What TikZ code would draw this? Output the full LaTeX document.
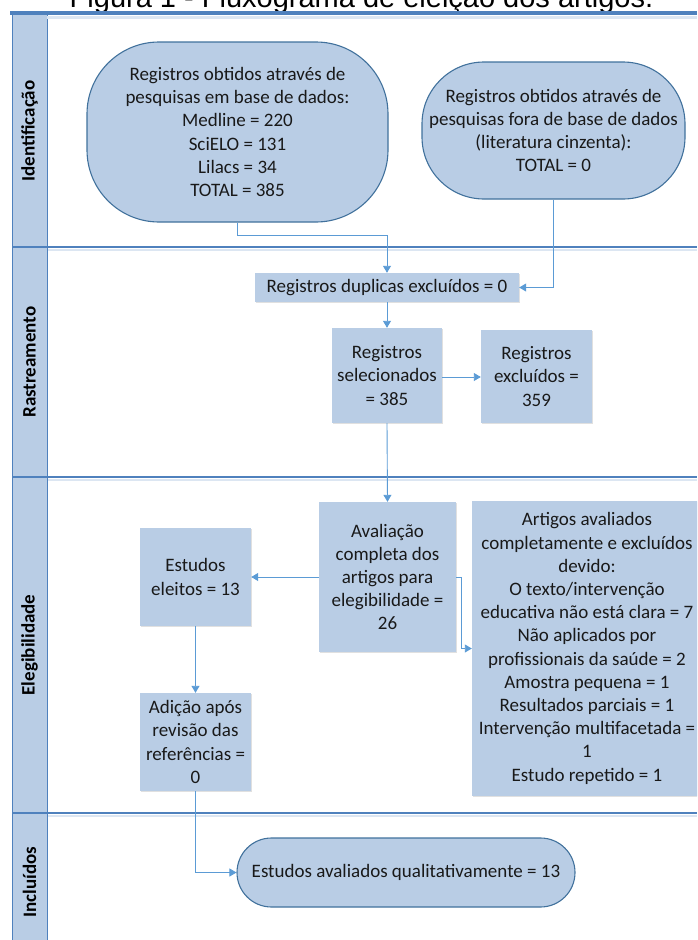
\documentclass[tikz,border=0pt]{standalone}
\usepackage{fontspec}
\setmainfont{Carlito}
\newfontfamily\arialf{Liberation Sans}
\usetikzlibrary{arrows.meta,shadows}
\definecolor{boxfill}{RGB}{185,205,229}
\definecolor{boxline}{RGB}{65,113,156}
\definecolor{laneline}{RGB}{79,129,189}
\definecolor{lanelight}{RGB}{220,230,242}
\definecolor{connc}{RGB}{91,155,213}
\tikzset{
  txt/.style={font=\fontsize{19}{23.2}\selectfont, align=center, text=black!90, inner sep=0pt},
  rbox/.style={txt, rectangle, fill=boxfill,
     drop shadow={shadow xshift=1.2pt, shadow yshift=-1.2pt, fill=black, opacity=0.12}},
  tbox/.style={txt, rectangle, fill=boxfill, draw=boxline, line width=1.1pt},
  conn/.style={draw=connc, line width=0.9pt, -{Triangle[length=7pt,width=8pt]}},
  lanelab/.style={font=\bfseries\fontsize{19}{23}\selectfont, rotate=90, inner sep=0pt},
}
\begin{document}
\begin{tikzpicture}[x=1pt,y=-1pt]
\useasboundingbox (0,0) rectangle (697,940);
\clip (0,0) rectangle (697,940);
% title (cut at the top)
\node[font=\arialf\fontsize{29}{29}\selectfont, anchor=base, inner sep=0pt] (title) at (361.5,7) {Figura 1 - Fluxograma de eleição dos artigos.};
% swimlanes
\fill[boxfill] (12,13) rectangle (47,960);
\foreach \yy in {247,477,813} {
  \draw[lanelight, line width=2pt] (47,\yy+2.5) -- (697,\yy+2.5);
  \draw[laneline, line width=1.5pt] (12,\yy) -- (697,\yy);
}
\draw[laneline, line width=1pt] (12,13) -- (12,960);
\draw[laneline, line width=1pt] (47,13) -- (47,960);
\draw[lanelight, line width=3pt] (47,17.5) -- (697,17.5);
\draw[laneline, line width=4pt] (10,13) -- (697,13);
\node[lanelab] (l1) at (29.5,131) {Identificação};
\node[lanelab] (l2) at (29.5,362) {Rastreamento};
\node[lanelab] (l3) at (29.5,645) {Elegibilidade};
\node[lanelab] (l4) at (29.5,882) {Incluídos};
% nodes
\node[tbox, rounded corners=72pt, minimum width=301pt, minimum height=180pt] (A) at (237.5,132)
  {Registros obtidos através de\\pesquisas em base de dados:\\Medline = 220\\SciELO = 131\\Lilacs = 34\\TOTAL = 385};
\node[tbox, rounded corners=62pt, minimum width=263pt, minimum height=137pt] (B) at (553.5,130.5)
  {Registros obtidos através de\\pesquisas fora de base de dados\\(literatura cinzenta):\\TOTAL = 0};
\node[rbox, minimum width=264pt, minimum height=29pt] (C) at (387,287.5) {Registros duplicas excluídos = 0};
\node[rbox, minimum width=110pt, minimum height=95pt] (D) at (387,375.5) {Registros\\selecionados\\= 385};
\node[rbox, minimum width=111pt, minimum height=93pt] (E) at (536.5,376.5) {Registros\\excluídos =\\359};
\node[rbox, minimum width=137pt, minimum height=150pt] (F) at (387.5,577) {Avaliação\\completa dos\\artigos para\\elegibilidade =\\26};
\node[rbox, minimum width=111pt, minimum height=98pt] (G) at (195.5,577) {Estudos\\eleitos = 13};
\node[rbox, minimum width=111pt, minimum height=98pt] (H) at (195.5,742) {Adição após\\revisão das\\referências =\\0};
\node[rbox, minimum width=230pt, minimum height=295pt] (I) at (587,648.5)
  {Artigos avaliados\\completamente e excluídos\\devido:\\O texto/intervenção\\educativa não está clara = 7\\Não aplicados por\\profissionais da saúde = 2\\Amostra pequena = 1\\Resultados parciais = 1\\Intervenção multifacetada =\\1\\Estudo repetido = 1};
\node[tbox, rounded corners=34.5pt, minimum width=338pt, minimum height=69pt] (J) at (406,872.5) {Estudos avaliados qualitativamente = 13};
% connectors
\coordinate (k1) at (387,235);
\draw[conn] (A.south) |- (k1) -- (C.north);
\draw[conn] (B.south) |- (C.east);
\draw[conn] (C.south) -- (D.north);
\draw[conn] (D.east |- 0,377) -- (E.west |- 0,377);
\draw[conn] (D.south) -- (F.north);
\draw[conn] (F.west) -- (G.east);
\draw[conn] (F.east) -- ++(5,0) |- (I.west);
\draw[conn] (G.south) -- (H.north);
\draw[conn] (H.south) |- (J.west);
\end{tikzpicture}
\end{document}
